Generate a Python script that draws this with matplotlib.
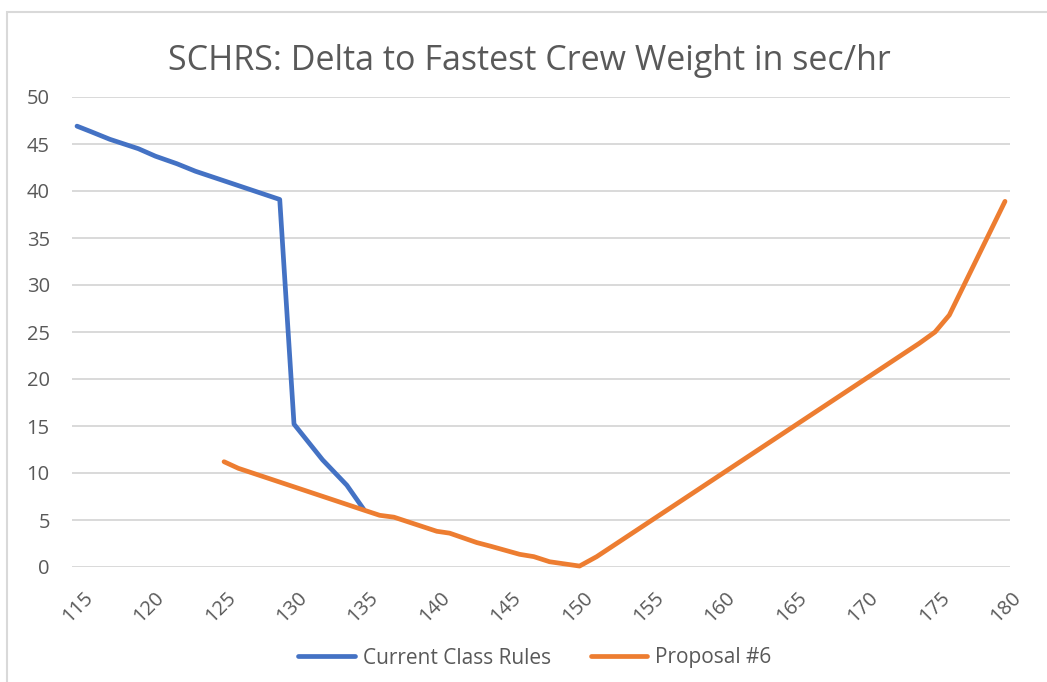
import matplotlib
matplotlib.use("Agg")
import matplotlib.pyplot as plt
import matplotlib.transforms as mtransforms
from matplotlib.patches import Rectangle

# ---- data ----
current_x = [115, 116, 117.3, 119.3, 120.5, 122, 123.3, 129.2, 130.2, 132.2, 133.9, 135.1]
current_y = [46.9, 46.3, 45.5, 44.5, 43.7, 42.9, 42.1, 39.1, 15.2, 11.4, 8.7, 6.1]

proposal_x = [125.3, 126.3, 135.0, 136.2, 137.2, 140.2, 141.1, 143.0, 144.0, 146.0,
              147.0, 148.1, 150.2, 151.4, 174.0, 175.1, 176.1, 180.0]
proposal_y = [11.2, 10.5, 6.1, 5.5, 5.3, 3.8, 3.6, 2.6, 2.2, 1.35,
              1.1, 0.56, 0.1, 1.1, 23.8, 25.0, 26.8, 38.9]

x_ticks = [115, 120, 125, 130, 135, 140, 145, 150, 155, 160, 165, 170, 175, 180]
y_ticks = [0, 5, 10, 15, 20, 25, 30, 35, 40, 45, 50]

title = "SCHRS: Delta to Fastest Crew Weight in sec/hr"
series_names = ["Current Class Rules", "Proposal #6"]

# ---- style ----
W, H, DPI = 1047, 682, 100
TEXT = "#595959"
GRID = "#D9D9D9"
BLUE = "#4472C4"
ORANGE = "#ED7D31"
FONT = ["Open Sans", "DejaVu Sans"]

fig = plt.figure(figsize=(W / DPI, H / DPI), dpi=DPI)
fig.patch.set_facecolor("white")

# outer chart border (light grey)
fig.add_artist(Rectangle((7 / W, -0.05), 1.1, 1 - 12 / H + 0.05, transform=fig.transFigure,
                         fill=False, edgecolor=GRID, linewidth=1.5))

ax = fig.add_axes([72 / W, 1 - 567 / H, (1010 - 72) / W, (567 - 97) / H])
ax.plot(current_x, current_y, color=BLUE, lw=3.4, solid_joinstyle="round",
        solid_capstyle="round", label=series_names[0], clip_on=False, zorder=3)
ax.plot(proposal_x, proposal_y, color=ORANGE, lw=3.4, solid_joinstyle="round",
        solid_capstyle="round", label=series_names[1], clip_on=False, zorder=4)

ax.set_xlim(114.65, 180.35)
ax.set_ylim(0, 50)
ax.set_yticks(y_ticks)
ax.set_xticks(x_ticks)
ax.grid(axis="y", color=GRID, lw=1.4)
ax.set_axisbelow(True)
for s in ax.spines.values():
    s.set_visible(False)
ax.tick_params(axis="both", length=0, colors=TEXT)
ax.tick_params(axis="y", pad=16, labelsize=14.5)
for lab in ax.get_yticklabels():
    lab.set_family(FONT)
    lab.set_color(TEXT)

ax.set_xticklabels([str(t) for t in x_ticks])
offset = mtransforms.ScaledTranslation(6 / DPI, -16 / DPI, fig.dpi_scale_trans)
for lab in ax.get_xticklabels():
    lab.set_rotation(45)
    lab.set_rotation_mode("anchor")
    lab.set_ha("right")
    lab.set_va("top")
    lab.set_family(FONT)
    lab.set_fontsize(14.5)
    lab.set_color(TEXT)
    lab.set_transform(lab.get_transform() + offset)

fig.text(529 / W, 1 - 61 / H, title, ha="center", va="center", color=TEXT,
         fontsize=24.5, family=FONT)

leg = fig.legend(loc="center", bbox_to_anchor=(535 / W, 1 - 658 / H), ncol=2,
                 frameon=False, prop={"family": FONT, "size": 15},
                 handlelength=2.7, handletextpad=0.4, columnspacing=1.9,
                 labelcolor=TEXT)
for h in leg.get_lines():
    h.set_linewidth(3.4)

fig.savefig("out.png", dpi=DPI)
